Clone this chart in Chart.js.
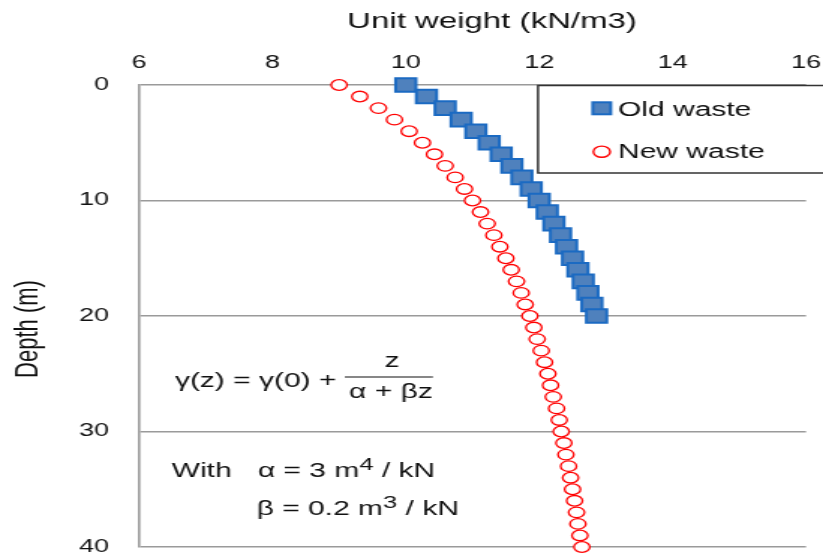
<!DOCTYPE html>
<html>
<head>
<meta charset="utf-8">
<title>Unit weight vs depth</title>
<script src="https://cdn.jsdelivr.net/npm/chart.js@4/dist/chart.umd.min.js"></script>
<style>
  html, body { margin: 0; padding: 0; background: #fff; overflow: hidden; }
  #chart { display: block; }
</style>
</head>
<body>
<!-- the original figure is stretched sideways, so the canvas is drawn narrow and widened by its inline style -->
<canvas id="chart" width="549" height="555" style="width:823px;height:555px"></canvas>
<script>
// Data
const depthOld = [0, 1, 2, 3, 4, 5, 6, 7, 8, 9, 10, 11, 12, 13, 14, 15, 16, 17, 18, 19, 20];
const oldWaste = [10.00, 10.31, 10.59, 10.83, 11.05, 11.25, 11.43, 11.59, 11.74, 11.88, 12.00,
  12.12, 12.22, 12.32, 12.41, 12.50, 12.58, 12.66, 12.73, 12.79, 12.86];

const depthNew = [0, 1, 2, 3, 4, 5, 6, 7, 8, 9, 10, 11, 12, 13, 14, 15, 16, 17, 18, 19, 20,
  21, 22, 23, 24, 25, 26, 27, 28, 29, 30, 31, 32, 33, 34, 35, 36, 37, 38, 39, 40];
const newWaste = [9.00, 9.31, 9.59, 9.83, 10.05, 10.25, 10.43, 10.59, 10.74, 10.88, 11.00,
  11.12, 11.22, 11.32, 11.41, 11.50, 11.58, 11.66, 11.73, 11.79, 11.86,
  11.92, 11.97, 12.03, 12.08, 12.13, 12.17, 12.21, 12.26, 12.30, 12.33,
  12.37, 12.40, 12.44, 12.47, 12.50, 12.53, 12.56, 12.58, 12.61, 12.64];

const seriesLabels = ['Old waste', 'New waste'];
const xTicks = [6, 8, 10, 12, 14, 16];
const yTicks = [0, 10, 20, 30, 40];
const xTitle = 'Unit weight (kN/m3)';
const yTitle = 'Depth (m)';

(function() {
  'use strict';

  const FONT = "'Liberation Sans', Arial, sans-serif";
  const BLUE_FILL = '#4f81bd';
  const BLUE_EDGE = '#1b6ac2';
  const RED = '#ff0000';
  const GRID = '#9a9a9a';

  function toPoints(xs, ys) {
    return ys.map(function(y, i) { return { x: xs[i], y: y }; });
  }

  /**
   * Draw text pieces one after another, with optional raised (superscript) pieces
   */
  function drawRun(ctx, x, y, parts) {
    parts.forEach(function(p) {
      ctx.font = (p.sup ? 17 : 20) + 'px ' + FONT;
      ctx.fillText(p.t, x, p.sup ? y - 7 : y);
      x += ctx.measureText(p.t).width;
    });
  }

  // Axis titles, legend box and formula notes
  const overlay = {
    id: 'overlay',
    afterDraw: function(chart) {
      const ctx = chart.ctx;
      ctx.save();
      ctx.fillStyle = '#111';
      ctx.textBaseline = 'alphabetic';

      // axis titles
      ctx.font = '22px ' + FONT;
      ctx.textAlign = 'center';
      ctx.fillText(xTitle, 328.2, 28);
      ctx.save();
      ctx.translate(18.7, 329);
      ctx.rotate(-Math.PI / 2);
      ctx.textBaseline = 'middle';
      ctx.fillText(yTitle, 0, 0);
      ctx.restore();

      // legend box
      ctx.fillStyle = '#fff';
      ctx.fillRect(358.9, 85.5, 200, 87.5);
      ctx.strokeStyle = '#333';
      ctx.lineWidth = 1.5;
      ctx.strokeRect(358.9, 85.5, 200, 87.5);

      ctx.fillStyle = BLUE_FILL;
      ctx.strokeStyle = BLUE_EDGE;
      ctx.lineWidth = 2;
      ctx.fillRect(395.4, 102.3, 12, 12);
      ctx.strokeRect(395.4, 102.3, 12, 12);

      ctx.beginPath();
      ctx.arc(401.4, 151.7, 5.6, 0, Math.PI * 2);
      ctx.fillStyle = '#fff';
      ctx.fill();
      ctx.strokeStyle = RED;
      ctx.lineWidth = 1.4;
      ctx.stroke();

      ctx.fillStyle = '#111';
      ctx.textAlign = 'left';
      ctx.font = '20px ' + FONT;
      ctx.fillText(seriesLabels[0], 412.3, 116);
      ctx.fillText(seriesLabels[1], 412.3, 158);

      // formula
      ctx.fillText('\u03b3(z) = \u03b3(0) +', 116.7, 387);
      ctx.textAlign = 'center';
      ctx.fillText('z', 261.5, 367);
      ctx.fillText('\u03b1 + \u03b2z', 260.8, 398);
      ctx.beginPath();
      ctx.moveTo(230, 377);
      ctx.lineTo(288.8, 377);
      ctx.strokeStyle = '#111';
      ctx.lineWidth = 1.2;
      ctx.stroke();

      ctx.textAlign = 'left';
      drawRun(ctx, 114.5, 477, [{ t: 'With' }]);
      drawRun(ctx, 172, 477, [{ t: '\u03b1 = 3 m' }, { t: '4', sup: true }, { t: ' / kN' }]);
      drawRun(ctx, 171.2, 515, [{ t: '\u03b2 = 0.2 m' }, { t: '3', sup: true }, { t: ' / kN' }]);

      ctx.restore();
    }
  };

  new Chart(document.getElementById('chart'), {
    type: 'scatter',
    data: {
      datasets: [{
        label: seriesLabels[0],
        data: toPoints(oldWaste, depthOld),
        pointStyle: 'rect',
        pointRadius: 9.6,
        pointBackgroundColor: BLUE_FILL,
        pointBorderColor: BLUE_EDGE,
        pointBorderWidth: 2,
        showLine: false,
        clip: false
      }, {
        label: seriesLabels[1],
        data: toPoints(newWaste, depthNew),
        pointStyle: 'circle',
        pointRadius: 5.3,
        pointBackgroundColor: '#fff',
        pointBorderColor: RED,
        pointBorderWidth: 1.3,
        showLine: false,
        clip: false
      }]
    },
    options: {
      responsive: false,
      devicePixelRatio: 1,
      animation: false,
      layout: { autoPadding: false, padding: { left: 0, right: 11.34, top: 0, bottom: 8 } },
      plugins: {
        legend: { display: false },
        tooltip: { enabled: false }
      },
      scales: {
        x: {
          type: 'linear',
          position: 'top',
          min: xTicks[0],
          max: xTicks[xTicks.length - 1],
          afterBuildTicks: function(s) { s.ticks = xTicks.map(function(v) { return { value: v }; }); },
          grid: { display: false, drawTicks: false },
          border: { display: false },
          ticks: { color: '#111', padding: 11, font: { family: FONT, size: 18 } },
          afterFit: function(s) {
            s.height = 85;
            s.paddingLeft = 0; s.paddingRight = 0;
          }
        },
        y: {
          type: 'linear',
          reverse: true,
          min: yTicks[0],
          max: yTicks[yTicks.length - 1],
          afterBuildTicks: function(s) { s.ticks = yTicks.map(function(v) { return { value: v }; }); },
          grid: { color: GRID, lineWidth: 1.6, drawTicks: false },
          border: { display: true, color: GRID, width: 1.6 },
          ticks: { color: '#111', padding: 20, font: { family: FONT, size: 18 } },
          afterFit: function(s) {
            s.width = 92.72;
            s.paddingTop = 0; s.paddingBottom = 0;
          }
        }
      }
    },
    plugins: [overlay]
  });
})();
</script>
</body>
</html>
